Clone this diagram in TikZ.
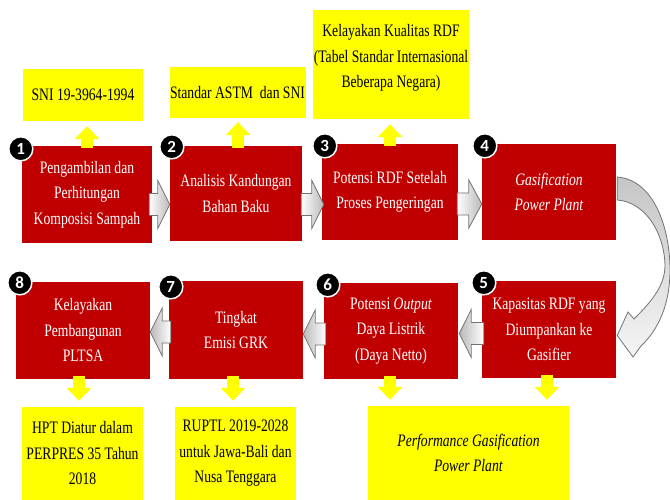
\documentclass[tikz,border=0pt]{standalone}
\usepackage{fontspec}
\setmainfont{Liberation Serif}[FakeStretch=0.78]
\newfontfamily\numfont{Carlito}
\usetikzlibrary{calc,arrows.meta,shadows}
\definecolor{boxred}{HTML}{C00000}
\definecolor{boxyel}{HTML}{FFFF00}
\tikzset{
  redbox/.style={rectangle, fill=boxred, text=white, align=center, inner sep=0pt,
    font=\fontsize{17.5}{25.5}\selectfont},
  yelbox/.style={rectangle, fill=boxyel, text=black, align=center, inner sep=0pt,
    font=\fontsize{17.5}{25.5}\selectfont},
  yeltext/.style={align=center, inner sep=0pt, text=black,
    font=\fontsize{17.5}{25.5}\selectfont},
  numc/.style={circle, fill=black, draw=white, line width=1.4pt, minimum size=24pt,
    inner sep=0pt, text=white, font=\numfont\bfseries\fontsize{17}{17}\selectfont,
    drop shadow={opacity=0.35, shadow xshift=1pt, shadow yshift=-1pt}},
  yarr/.style={draw=boxyel, line width=12pt, -{Triangle[width=24pt,length=13pt]}},
  garrowR/.style={left color=white, right color=gray!55, draw=black!55, line width=0.8pt},
  garrowL/.style={right color=white, left color=gray!55, draw=black!55, line width=0.8pt},
  curvarr/.style={top color=gray!45, bottom color=gray!8, draw=black!55, line width=0.8pt},
}
% #1 style, #2 from, #3 to, #4 signed head length
\newcommand\blockarrow[4]{%
  \path[#1] let \p1=#2, \p2=#3 in
    (\x1,{\y1+11pt}) -- ({\x2-(#4)},{\y1+11pt}) -- ({\x2-(#4)},{\y1+24pt})
    -- (\x2,\y1) -- ({\x2-(#4)},{\y1-24pt}) -- ({\x2-(#4)},{\y1-11pt})
    -- (\x1,{\y1-11pt}) -- cycle;}
\begin{document}
\begin{tikzpicture}[x=1pt,y=-1pt]
\useasboundingbox (0,0) rectangle (670,500);
\fill[white] (0,0) rectangle (670,500);

% red boxes
\node[redbox, minimum width=130pt, minimum height=97pt] (b1) at (87,194.5)
  {Pengambilan dan\\Perhitungan\\Komposisi Sampah};
\node[redbox, minimum width=132pt, minimum height=95pt] (b2) at (236,193.5)
  {Analisis Kandungan\\Bahan Baku};
\node[redbox, minimum width=136pt, minimum height=96pt] (b3) at (390,192)
  {Potensi RDF Setelah\\Proses Pengeringan};
\node[redbox, minimum width=134pt, minimum height=96pt] (b4) at (549,192)
  {\textit{Gasification}\\\textit{Power Plant}};
\node[redbox, minimum width=134pt, minimum height=97pt] (b5) at (549,329.5)
  {Kapasitas RDF yang\\Diumpankan ke\\Gasifier};
\node[redbox, minimum width=134pt, minimum height=96pt] (b6) at (391,331)
  {Potensi \textit{Output}\\Daya Listrik\\(Daya Netto)};
\node[redbox, minimum width=134pt, minimum height=98pt] (b7) at (236,330)
  {Tingkat\\Emisi GRK};
\node[redbox, minimum width=134pt, minimum height=97pt] (b8) at (83,330.5)
  {Kelayakan\\Pembangunan\\PLTSA};

% yellow boxes
\node[yelbox, minimum width=120pt, minimum height=52pt] (y1) at (83,95)
  {SNI 19-3964-1994};
\node[yelbox, minimum width=136pt, minimum height=51pt] (y2) at (237.5,92.5)
  {Standar ASTM\ \ dan SNI};
\node[yelbox, minimum width=156pt, minimum height=109pt] (y3) at (391,64.5) {};
\node[yeltext] (y3t) at (391,58)
  {Kelayakan Kualitas RDF\\(Tabel Standar Internasional\\Beberapa Negara)};
\node[yelbox, minimum width=121pt, minimum height=93pt] (y8) at (82.5,453.5)
  {HPT Diatur dalam\\PERPRES 35 Tahun\\2018};
\node[yelbox, minimum width=121pt, minimum height=93pt] (y7) at (235.5,453.5)
  {RUPTL 2019-2028\\untuk Jawa-Bali dan\\Nusa Tenggara};
\node[yelbox, minimum width=201pt, minimum height=94pt] (y56) at (468.5,453)
  {\textit{Performance Gasification}\\\textit{Power Plant}};

% yellow arrows
\draw[yarr] ($(b1.north)+(0,2)$) -- ($(b1.north |- y1.south)+(0,5)$);
\draw[yarr] ($(b2.north)+(2,2)$) -- ($(b2.north |- y2.south)+(2,4)$);
\draw[yarr] ($(b3.north)+(0,2)$) -- ($(b3.north |- y3.south)+(0,5)$);
\draw[yarr] ($(b8.south)+(-4,-3)$) -- ($(b8.south |- y8.north)+(-4,-6)$);
\draw[yarr] ($(b7.south)+(-3,-3)$) -- ($(b7.south |- y7.north)+(-3,-6)$);
\draw[yarr] ($(b6.south)+(-1,-3)$) -- ($(b6.south |- y56.north)+(-1,-6)$);
\draw[yarr] ($(b5.south)+(-2,-3)$) -- ($(b5.south |- y56.north)+(-2,-6)$);

% gray block arrows
\blockarrow{garrowR}{($(b1.east)+(-3,10)$)}{($(b2.west)+(0,10)$)}{12pt}
\blockarrow{garrowR}{($(b2.east)+(-1,11)$)}{($(b3.west)+(2,11)$)}{12pt}
\blockarrow{garrowR}{($(b3.east)+(-1,12)$)}{($(b4.west)+(0,12)$)}{13pt}
\blockarrow{garrowL}{($(b5.west)+(2,4)$)}{($(b6.east)+(1,4)$)}{-12pt}
\blockarrow{garrowL}{($(b6.west)+(2,3)$)}{($(b7.east)+(0,3)$)}{-12pt}
\blockarrow{garrowL}{($(b7.west)+(2,2)$)}{($(b8.east)+(0,2)$)}{-12pt}

% curved arrow from 4 to 5
\path[curvarr] ($(b4.east)+(1,-15)$) .. controls (655,180) and (670,230) .. (670,270)
  .. controls (670,305) and (658,330) .. (641,346) -- (633,357)
  -- ($(b5.east)+(1,6)$) -- (628,312) -- (634,319)
  .. controls (653,300) and (665,285) .. (665,265)
  .. controls (664,232) and (645,202) .. ($(b4.east)+(1,8)$) -- cycle;

% number circles
\node[numc] (n1) at ($(b1.north west)+(-1,3)$) {1};
\node[numc] (n2) at ($(b2.north west)+(2,1)$) {2};
\node[numc] (n3) at ($(b3.north west)+(3,2)$) {3};
\node[numc] (n4) at ($(b4.north west)+(3,2)$) {4};
\node[numc] (n5) at ($(b5.north west)+(2,2)$) {5};
\node[numc] (n6) at ($(b6.north west)+(4,2)$) {6};
\node[numc] (n7) at ($(b7.north west)+(2,6)$) {7};
\node[numc] (n8) at ($(b8.north west)+(4,1)$) {8};
\end{tikzpicture}
\end{document}
